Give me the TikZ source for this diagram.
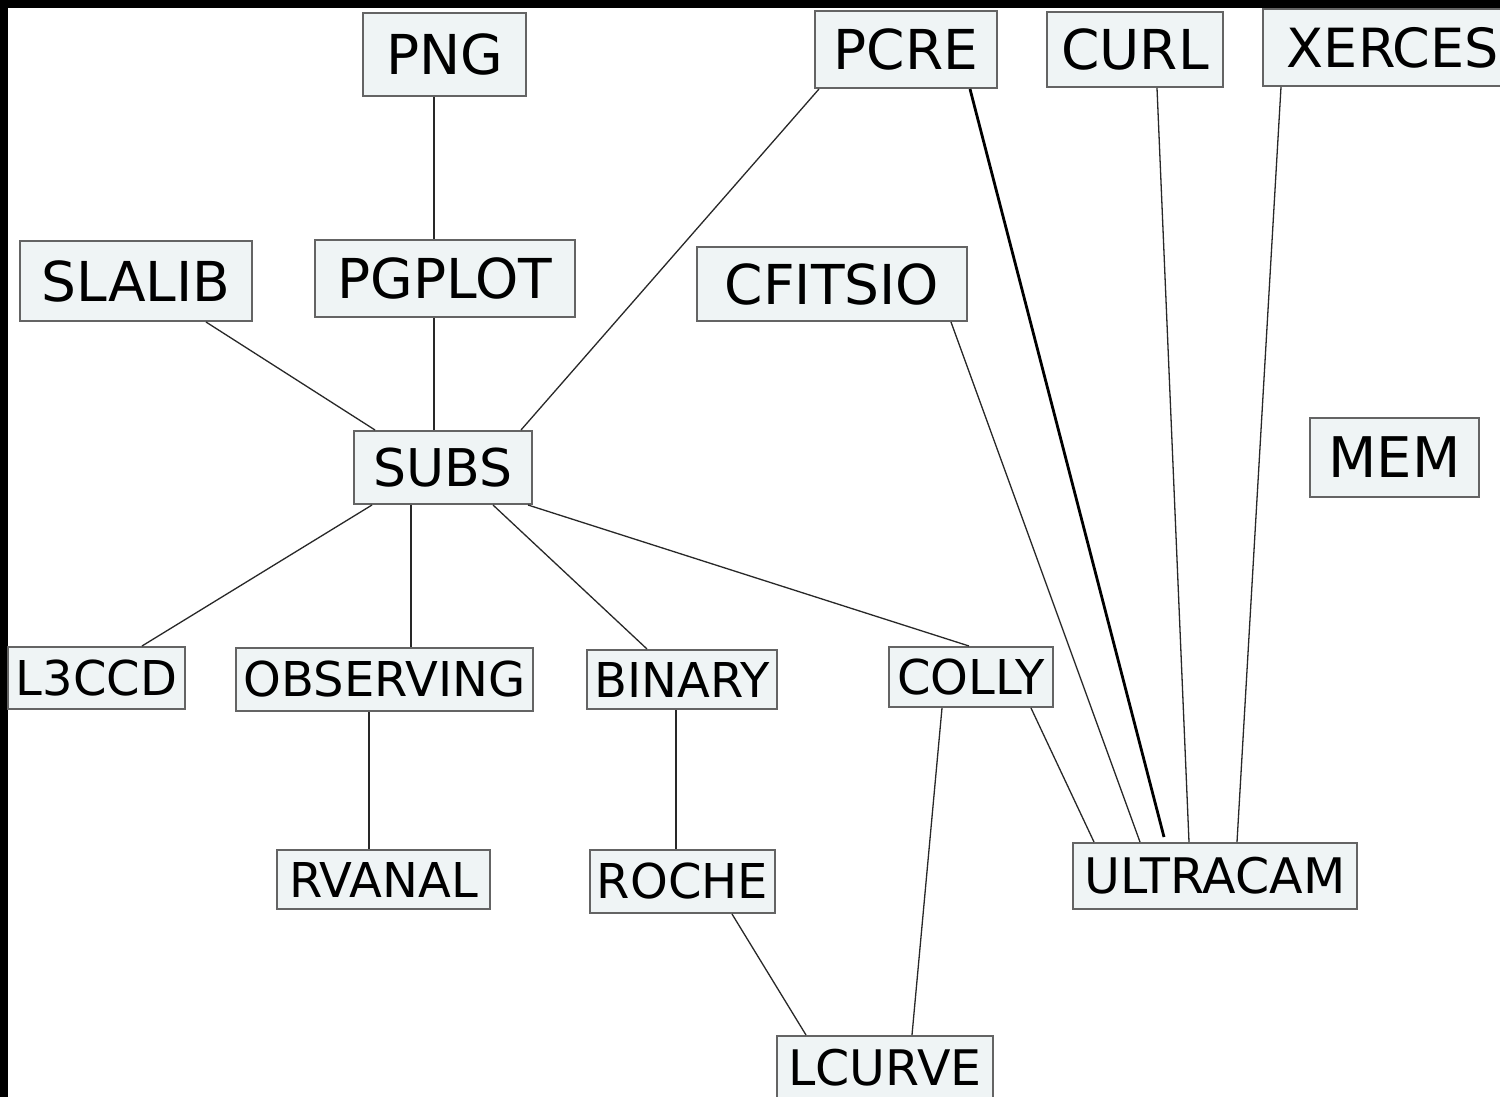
\documentclass[tikz,border=0pt]{standalone}
\usepackage{fontspec}
\setmainfont{DejaVu Sans}
\definecolor{boxfill}{RGB}{239,244,245}
\definecolor{boxline}{RGB}{100,100,100}
\definecolor{edgecol}{RGB}{40,40,40}
\tikzset{
  pkg/.style={draw=boxline, line width=2pt, fill=boxfill, inner sep=0pt, text=black},
  big/.style={font=\fontsize{55}{60}\selectfont},
  small/.style={font=\fontsize{48}{52}\selectfont},
  link/.style={draw=edgecol, line width=1.3pt},
  heavy/.style={draw=black, line width=2.8pt}
}
\begin{document}
\begin{tikzpicture}[x=1pt,y=-1pt]
\clip (0,0) rectangle (1500,1097);
\fill[white] (0,0) rectangle (1500,1097);
\fill[black] (0,0) rectangle (1500,8);
\fill[black] (0,0) rectangle (8,1097);

% top row
\node[pkg,big,minimum width=163pt,minimum height=83pt] (png) at (444.5,54.5) {PNG};
\node[pkg,big,minimum width=182pt,minimum height=77pt] (pcre) at (906,49.5) {PCRE};
\node[pkg,big,minimum width=176pt,minimum height=75pt] (curl) at (1135,49.5) {CURL};
\node[pkg,big,font=\fontsize{54}{58}\selectfont,minimum width=260pt,minimum height=77pt] (xerces) at (1393,47.5) {XERCES};
% second row
\node[pkg,big,minimum width=232pt,minimum height=80pt] (slalib) at (136,281) {SLALIB};
\node[pkg,big,minimum width=260pt,minimum height=77pt] (pgplot) at (445,278.5) {PGPLOT};
\node[pkg,big,minimum width=270pt,minimum height=74pt] (cfitsio) at (832,284) {CFITSIO};
% middle
\node[pkg,big,font=\fontsize{56}{60}\selectfont,minimum width=169pt,minimum height=79pt] (mem) at (1394.5,457.5) {MEM};
\node[pkg,big,font=\fontsize{52}{56}\selectfont,minimum width=178pt,minimum height=73pt] (subs) at (443,467.5) {SUBS};
% lower rows
\node[pkg,small,minimum width=177pt,minimum height=62pt] (l3ccd) at (96.5,678) {L3CCD};
\node[pkg,small,minimum width=297pt,minimum height=63pt] (observing) at (384.5,679.5) {OBSERVING};
\node[pkg,small,minimum width=190pt,minimum height=59pt] (binary) at (682,679.5) {BINARY};
\node[pkg,small,minimum width=164pt,minimum height=60pt] (colly) at (971,677) {COLLY};
\node[pkg,small,minimum width=213pt,minimum height=59pt] (rvanal) at (383.5,879.5) {RVANAL};
\node[pkg,small,minimum width=185pt,minimum height=63pt] (roche) at (682.5,881.5) {ROCHE};
\node[pkg,small,font=\fontsize{49}{53}\selectfont,minimum width=284pt,minimum height=66pt] (ultracam) at (1215,876) {ULTRACAM};
\node[pkg,small,font=\fontsize{49}{53}\selectfont,minimum width=216pt,minimum height=64pt] (lcurve) at (885,1068) {LCURVE};

% connectors
\draw[link] ([xshift=72pt]png.south west) -- ([xshift=120pt]pgplot.north west);
\draw[link] ([xshift=120pt]pgplot.south west) -- ([xshift=81pt]subs.north west);
\draw[link] ([xshift=187pt]slalib.south west) -- ([xshift=22pt]subs.north west);
\draw[link] ([xshift=5pt]pcre.south west) -- ([xshift=168pt]subs.north west);
\draw[link] ([xshift=19pt]subs.south west) -- ([xshift=135pt]l3ccd.north west);
\draw[link] ([xshift=58pt]subs.south west) -- ([xshift=176pt]observing.north west);
\draw[link] ([xshift=140pt]subs.south west) -- ([xshift=61pt]binary.north west);
\draw[link] ([xshift=-5pt]subs.south east) -- ([xshift=81pt]colly.north west);
\draw[link] ([xshift=134pt]observing.south west) -- ([xshift=93pt]rvanal.north west);
\draw[link] ([xshift=90pt]binary.south west) -- ([xshift=87pt]roche.north west);
\draw[link] ([xshift=143pt]roche.south west) -- ([xshift=30pt]lcurve.north west);
\draw[link] ([xshift=54pt]colly.south west) -- ([xshift=136pt]lcurve.north west);
\draw[link] ([xshift=143pt]colly.south west) -- ([xshift=22pt]ultracam.north west);
\draw[link] ([xshift=255pt]cfitsio.south west) -- ([xshift=68pt]ultracam.north west);
\draw[heavy] ([xshift=156pt]pcre.south west) -- ([xshift=92pt,yshift=5pt]ultracam.north west);
\draw[link] ([xshift=111pt]curl.south west) -- ([xshift=117pt]ultracam.north west);
\draw[link] ([xshift=19pt]xerces.south west) -- ([xshift=165pt]ultracam.north west);
\end{tikzpicture}
\end{document}
